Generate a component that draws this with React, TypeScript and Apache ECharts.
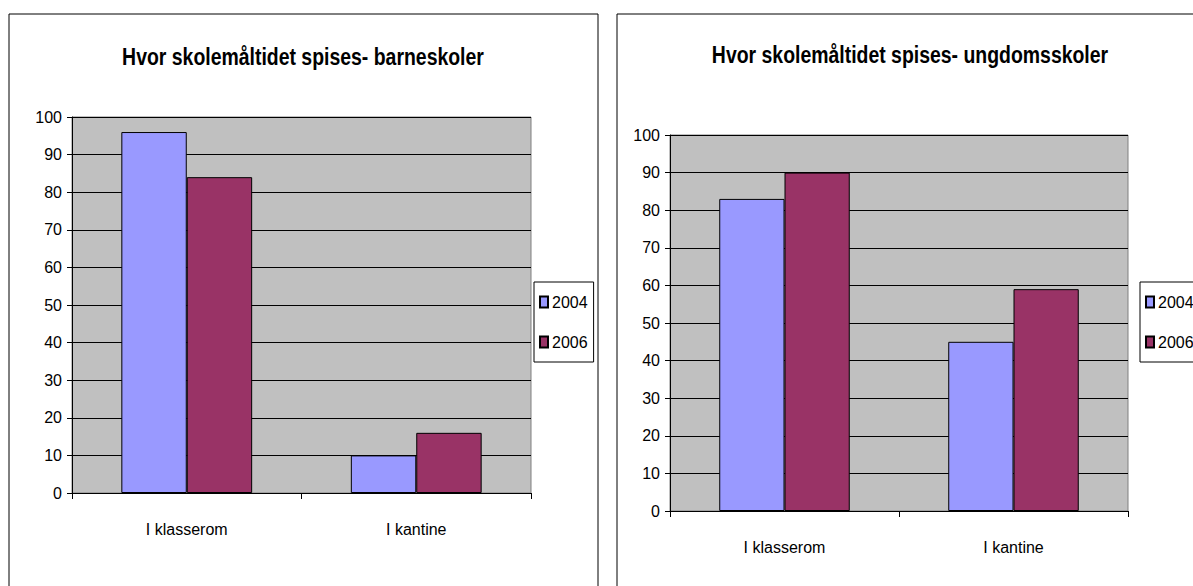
import React, { useEffect, useRef } from "react";
import * as echarts from "echarts";

const categories = ["I klasserom", "I kantine"];
const seriesNames = ["2004", "2006"];
const barne2004 = [96, 10];
const barne2006 = [84, 16];
const ungdom2004 = [83, 45];
const ungdom2006 = [90, 59];
const titles = ["Hvor skolemåltidet spises- barneskoler", "Hvor skolemåltidet spises- ungdomsskoler"];

const FONT = "'Liberation Sans', Arial, sans-serif";
const C2004 = "#9999FF";
const C2006 = "#993366";

export default function App() {
  const ref = useRef<HTMLDivElement>(null);
  useEffect(() => {
    if (!ref.current) return;
    const chart = echarts.init(ref.current, null, { renderer: "svg" });
    const grids = [
      { left: 72, top: 117, width: 459, height: 376 },
      { left: 670, top: 135, width: 458, height: 376 },
    ];
    const xAxis = grids.map((_, i) => ({
      type: "category" as const,
      gridIndex: i,
      data: categories,
      axisLine: { show: true, lineStyle: { color: "#000", width: 1 } },
      axisTick: { show: true, length: 6, lineStyle: { color: "#000" } },
      axisLabel: { color: "#000", fontFamily: FONT, fontSize: 16, margin: 28 },
      splitLine: { show: false },
    }));
    const yAxis = grids.map((_, i) => ({
      type: "value" as const,
      gridIndex: i,
      min: 0,
      max: 100,
      interval: 10,
      axisLine: { show: true, lineStyle: { color: "#000", width: 1 } },
      axisTick: { show: true, length: 5, lineStyle: { color: "#000" } },
      axisLabel: { color: "#000", fontFamily: FONT, fontSize: 16, margin: 10 },
      splitLine: { show: true, lineStyle: { color: "#000", width: 1 } },
    }));
    const data = [
      [barne2004, barne2006],
      [ungdom2004, ungdom2006],
    ];
    const colors = [C2004, C2006];
    const series: any[] = [];
    data.forEach((pair, gi) => {
      pair.forEach((vals, si) => {
        series.push({
          type: "bar",
          name: seriesNames[si],
          xAxisIndex: gi,
          yAxisIndex: gi,
          data: vals,
          barGap: "0%",
          barCategoryGap: "43%",
          itemStyle: { color: colors[si], borderColor: "#000", borderWidth: 1 },
        });
      });
    });
    const legendBase = {
      orient: "vertical" as const,
      top: 282,
      data: seriesNames,
      icon: "rect",
      itemWidth: 8,
      itemHeight: 11,
      itemGap: 24,
      padding: [12, 6, 12, 5],
      borderColor: "#000",
      borderWidth: 1,
      backgroundColor: "#fff",
      selectedMode: false,
      textStyle: { color: "#000", fontFamily: FONT, fontSize: 16, padding: [0, 0, 0, -1] },
    };
    const titleText = (text: string, x: number, y: number) => ({
      type: "text",
      x,
      y,
      scaleX: 0.81,
      silent: true,
      style: {
        text,
        x: 0,
        y: 0,
        align: "center",
        verticalAlign: "middle",
        fill: "#000",
        font: `bold 24px ${FONT}`,
      },
    });
    chart.setOption({
      animation: false,
      backgroundColor: "#fff",
      grid: grids.map((g) => ({ ...g, show: true, backgroundColor: "#C0C0C0", borderColor: "#808080", borderWidth: 1 })),
      xAxis,
      yAxis,
      legend: [
        { ...legendBase, left: 534 },
        { ...legendBase, left: 1140 },
      ],
      series,
      graphic: [
        { type: "rect", shape: { x: 9, y: 14, width: 589, height: 620 }, style: { fill: "none", stroke: "#000", lineWidth: 1 }, silent: true },
        { type: "rect", shape: { x: 617, y: 14, width: 620, height: 620 }, style: { fill: "none", stroke: "#000", lineWidth: 1 }, silent: true },
        titleText(titles[0], 303, 57),
        titleText(titles[1], 910, 55),
      ],
    });
    return () => chart.dispose();
  }, []);
  return <div ref={ref} style={{ position: "absolute", left: 0, top: 0, width: 1193, height: 586 }} />;
}
